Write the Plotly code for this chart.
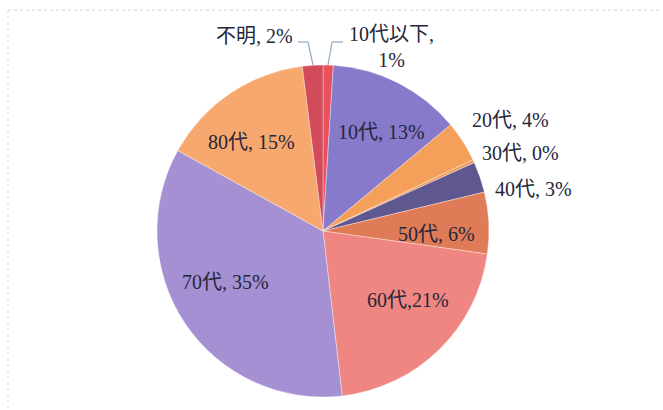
import plotly.graph_objects as go

# ---- data ----
labels = ["10代以下", "10代", "20代", "30代", "40代", "50代", "60代", "70代", "80代", "不明"]
values = [1, 13, 4, 0.3, 3, 6, 21, 35, 15, 2]
pct_text = ["1%", "13%", "4%", "0%", "3%", "6%", "21%", "35%", "15%", "2%"]

# ---- style ----
colors = ["#e8515c", "#877aca", "#f4a05a", "#f29a55", "#5e5790", "#e07b58",
          "#ef8681", "#a590d3", "#f6a86f", "#d24b5a"]
W, H = 663, 410
cx, cy, r = 323, 231, 166

label_pos = {
    "10代以下": (391, 47),
    "10代": (382, 132),
    "20代": (510, 120),
    "30代": (520, 153),
    "40代": (533, 189),
    "50代": (436, 234),
    "60代": (408, 300),
    "70代": (225, 282),
    "80代": (251, 142),
    "不明": (254, 36),
}
sep = {"60代": ","}

fig = go.Figure(go.Pie(
    labels=labels, values=values, sort=False, direction="clockwise", rotation=0,
    marker=dict(colors=colors, line=dict(color="rgba(255,255,255,0.6)", width=0.6)),
    textinfo="none", hoverinfo="label+percent", showlegend=False,
    domain=dict(x=[(cx - r) / W, (cx + r) / W], y=[(H - cy - r) / H, (H - cy + r) / H]),
))

font = dict(family="Liberation Serif, 'Noto Sans CJK JP', serif", size=20, color="#26263a")
for lab, p in zip(labels, pct_text):
    x, y = label_pos[lab]
    s = sep.get(lab, ", ")
    txt = f"{lab},<br>{p}" if lab == "10代以下" else f"{lab}{s}{p}"
    fig.add_annotation(x=x / W, y=1 - y / H, xref="paper", yref="paper", text=txt,
                       showarrow=False, font=font, xanchor="center", yanchor="middle")

def P(px, py):
    return px / W, 1 - py / H

shapes = []
for pts in [[(298, 42), (308, 42), (313, 65)], [(343, 42), (332, 42), (328, 65)]]:
    for (a, b) in zip(pts[:-1], pts[1:]):
        x0, y0 = P(*a); x1, y1 = P(*b)
        shapes.append(dict(type="line", xref="paper", yref="paper", x0=x0, y0=y0, x1=x1, y1=y1,
                           line=dict(color="#8fa9bf", width=1.2)))
x0, y0 = P(8, 10); x1, y1 = P(660, 10)
shapes.append(dict(type="line", xref="paper", yref="paper", x0=x0, y0=y0, x1=x1, y1=y1,
                   line=dict(color="#d0d0d0", width=1, dash="dot")))
x0, y0 = P(8, 10); x1, y1 = P(8, 408)
shapes.append(dict(type="line", xref="paper", yref="paper", x0=x0, y0=y0, x1=x1, y1=y1,
                   line=dict(color="#d8d8d8", width=1, dash="dot")))

fig.update_layout(width=W, height=H, margin=dict(l=0, r=0, t=0, b=0),
                  paper_bgcolor="white", plot_bgcolor="white", shapes=shapes)
fig.write_html("out.html", config={"displayModeBar": False},
               post_script="document.body.style.margin='0';document.body.style.overflow='hidden';")
